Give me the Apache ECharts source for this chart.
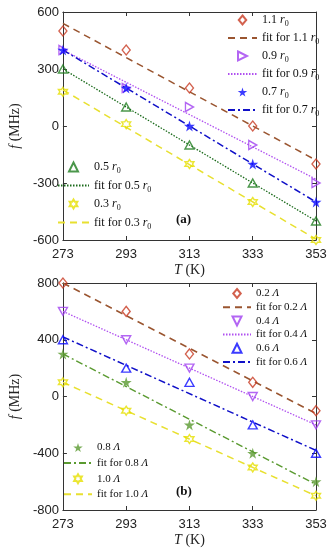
<!DOCTYPE html>
<html><head><meta charset="utf-8">
<script src="https://cdn.jsdelivr.net/npm/echarts@6/dist/echarts.min.js"></script>
<style>html,body{margin:0;padding:0;background:#fff}#c{width:333px;height:550px}</style>
</head><body><div id="c"></div>
<script>
// temperatures (K)
const temps = ['273', '293', '313', '333', '353'];
const yTicksA = [-600, -300, 0, 300, 600];
const yTicksB = [-800, -400, 0, 400, 800];
// panel (a): frequency (MHz)
const a11 = [500, 400, 200, 0, -200];
const a09 = [400, 200, 100, -100, -300];
const a07 = [400, 200, 0, -200, -400];
const a05 = [300, 100, -100, -300, -500];
const a03 = [180, 10, -200, -400, -600];
// fit line end values at 273 K and 353 K
const fitA11 = [540, -180];
const fitA09 = [400, -280];
const fitA07 = [400, -400];
const fitA05 = [300, -500];
const fitA03 = [190, -596];
// panel (b)
const b02 = [800, 600, 300, 100, -100];
const b04 = [600, 400, 200, 0, -200];
const b06 = [400, 200, 100, -200, -400];
const b08 = [300, 100, -200, -400, -600];
const b10 = [100, -100, -300, -500, -700];
const fitB02 = [800, -120];
const fitB04 = [600, -200];
const fitB06 = [420, -380];
const fitB08 = [300, -620];
const fitB10 = [100, -700];

const STAR = 'path://M50,0 L61,35 L98,35 L68,57 L79,91 L50,70 L21,91 L32,57 L2,35 L39,35 Z';
const HEX = 'path://M50,0 L64,25 L93,25 L79,50 L93,75 L64,75 L50,100 L36,75 L7,75 L21,50 L7,25 L36,25 Z';
const TRI_R = 'path://M0,0 L10,5 L0,10 Z';
const TRI_D = 'path://M0,0 L10,0 L5,10 Z';
const TRI_U = 'path://M5,0 L10,10 L0,10 Z';
const DIAM = 'path://M5,0 L10,6 L5,12 L0,6 Z';

const serif = "'Liberation Serif','DejaVu Serif',serif";
const sans = "'Liberation Sans',Arial,sans-serif";
const axisCol = '#333';

function pts(vals) { return temps.map((t, i) => [t, vals[i]]); }
function fitPts(f) { return [[temps[0], f[0]], [temps[temps.length - 1], f[1]]]; }

function scatter(name, vals, sym, size, col, filled, gi) {
  return {
    type: 'scatter', name: name, data: pts(vals), symbol: sym, symbolSize: size,
    xAxisIndex: gi * 2, yAxisIndex: gi * 2, z: 5,
    itemStyle: { color: filled ? col : 'rgba(255,255,255,0)', borderColor: col, borderWidth: filled ? 0 : 1.4 }
  };
}
function fitLine(name, f, col, type, w, gi) {
  return {
    type: 'line', name: name, data: fitPts(f), symbol: 'none', xAxisIndex: gi * 2, yAxisIndex: gi * 2, z: 3,
    itemStyle: { color: 'rgba(0,0,0,0)', borderWidth: 0 },
    lineStyle: { color: col, type: type, width: w }
  };
}

const cBrownM = '#c83a22', cBrown = '#9a5530', cPurp = '#a040f0', cBlue = '#0a0aff', cBlueL = '#1010c8',
  cGreen = '#1e7d1e', cGreenL = '#1a6a1a', cYel = '#e6e000', cYelL = '#e8e030', cOlive = '#5a9a30';

const series = [
  fitLine('fit for 1.1 r0', fitA11, cBrown, [7, 5], 1.5, 0),
  fitLine('fit for 0.9 r0', fitA09, '#b050f0', [1.5, 1.5], 1.3, 0),
  fitLine('fit for 0.7 r0', fitA07, cBlueL, [7, 3, 2, 3], 1.5, 0),
  fitLine('fit for 0.5 r0', fitA05, cGreenL, [1.5, 1.5], 1.3, 0),
  fitLine('fit for 0.3 r0', fitA03, cYelL, [7, 5], 1.5, 0),
  scatter('1.1 r0', a11, DIAM, [8, 10], cBrownM, false, 0),
  scatter('0.9 r0', a09, TRI_R, [8, 9], cPurp, false, 0),
  scatter('0.7 r0', a07, STAR, 11, cBlue, true, 0),
  scatter('0.5 r0', a05, TRI_U, [9, 8], cGreen, false, 0),
  scatter('0.3 r0', a03, HEX, 9, cYel, false, 0),

  fitLine('fit for 0.2 Λ', fitB02, cBrown, [7, 5], 1.5, 1),
  fitLine('fit for 0.4 Λ', fitB04, '#b050f0', [1.5, 1.5], 1.3, 1),
  fitLine('fit for 0.6 Λ', fitB06, cBlueL, [7, 3, 2, 3], 1.5, 1),
  fitLine('fit for 0.8 Λ', fitB08, cOlive, [7, 3, 2, 3], 1.4, 1),
  fitLine('fit for 1.0 Λ', fitB10, cYelL, [7, 5], 1.5, 1),
  scatter('0.2 Λ', b02, DIAM, [8, 10], cBrownM, false, 1),
  scatter('0.4 Λ', b04, TRI_D, [9, 8], cPurp, false, 1),
  scatter('0.6 Λ', b06, TRI_U, [9, 8], cBlue, false, 1),
  scatter('0.8 Λ', b08, STAR, 11, cOlive, true, 1),
  scatter('1.0 Λ', b10, HEX, 9, cYel, false, 1)
];

function legendFmt(n) {
  if (n.endsWith(' r0')) return '{t|' + n.slice(0, -3) + ' }{i|r}{s|0}';
  if (n.endsWith(' Λ')) return '{t|' + n.slice(0, -2) + ' }{i|Λ}';
  return n;
}
function richFor(fs, lh) {
  return {
    t: { fontFamily: serif, fontSize: fs, color: '#111', lineHeight: lh },
    i: { fontFamily: serif, fontSize: fs, fontStyle: 'italic', color: '#111', lineHeight: lh },
    s: { fontFamily: serif, fontSize: fs - 4, color: '#111', lineHeight: 8, verticalAlign: 'bottom' }
  };
}
function legend(names, left, top, iw, gap, fs, lh) {
  return {
    data: names, left: left, top: top, orient: 'vertical', itemWidth: iw, itemHeight: 9, itemGap: gap,
    selectedMode: false, padding: 0, formatter: legendFmt,
    textStyle: { fontFamily: serif, fontSize: fs, color: '#111', rich: richFor(fs, lh) }
  };
}

function xAx(gi, top) {
  return {
    type: 'category', data: temps, boundaryGap: false, gridIndex: gi, position: top ? 'top' : 'bottom',
    axisLine: { onZero: false, lineStyle: { color: axisCol, width: 1 } },
    axisTick: { inside: true, length: 4, lineStyle: { color: axisCol } },
    axisLabel: top ? { show: false } : { fontFamily: sans, fontSize: 13, color: '#222', margin: 8 },
    splitLine: { show: false },
    name: top ? '' : '{i|T} (K)', nameLocation: 'middle', nameGap: 23,
    nameTextStyle: { fontFamily: serif, fontSize: 14, color: '#222', rich: { i: { fontFamily: serif, fontSize: 14, fontStyle: 'italic', color: '#222' } } }
  };
}
function yAx(gi, right, min, max, iv) {
  return {
    type: 'value', gridIndex: gi, position: right ? 'right' : 'left', min: min, max: max, interval: iv,
    axisLine: { show: true, onZero: false, lineStyle: { color: axisCol, width: 1 } },
    axisTick: { show: true, inside: true, length: 4, lineStyle: { color: axisCol } },
    axisLabel: right ? { show: false } : { fontFamily: sans, fontSize: 13, color: '#222', margin: 4 },
    splitLine: { show: false },
    name: right ? '' : '{i|f} (MHz)', nameLocation: 'middle', nameGap: 36,
    nameTextStyle: { fontFamily: serif, fontSize: 14, color: '#222', rich: { i: { fontFamily: serif, fontSize: 14, fontStyle: 'italic', color: '#222' } } }
  };
}

const chart = echarts.init(document.getElementById('c'), null, { renderer: 'canvas' });
chart.setOption({
  animation: false,
  backgroundColor: '#fff',
  grid: [
    { left: 55, width: 261, top: 12, height: 228 },
    { left: 55, width: 261, top: 283, height: 227 }
  ],
  xAxis: [xAx(0, false), xAx(0, true), xAx(1, false), xAx(1, true)],
  yAxis: [
    yAx(0, false, yTicksA[0], yTicksA[4], 300), yAx(0, true, yTicksA[0], yTicksA[4], 300),
    yAx(1, false, yTicksB[0], yTicksB[4], 400), yAx(1, true, yTicksB[0], yTicksB[4], 400)
  ],
  legend: [
    legend(['1.1 r0', 'fit for 1.1 r0', '0.9 r0', 'fit for 0.9 r0', '0.7 r0', 'fit for 0.7 r0'], 227, 14, 29, 4.0, 12, 16),
    legend(['0.5 r0', 'fit for 0.5 r0', '0.3 r0', 'fit for 0.3 r0'], 57, 161, 31, 4.5, 12, 16),
    legend(['0.2 Λ', 'fit for 0.2 Λ', '0.4 Λ', 'fit for 0.4 Λ', '0.6 Λ', 'fit for 0.6 Λ'], 222, 288, 28, 2.7, 11, 13),
    legend(['0.8 Λ', 'fit for 0.8 Λ', '1.0 Λ', 'fit for 1.0 Λ'], 63, 442, 28, 4.6, 11, 13)
  ],
  graphic: [
    { type: 'text', left: 176, top: 213, style: { text: '(a)', font: "bold 13px " + serif, fill: '#111' } },
    { type: 'text', left: 176, top: 485, style: { text: '(b)', font: "bold 13px " + serif, fill: '#111' } }
  ],
  series: series
});
</script>
</body></html>
